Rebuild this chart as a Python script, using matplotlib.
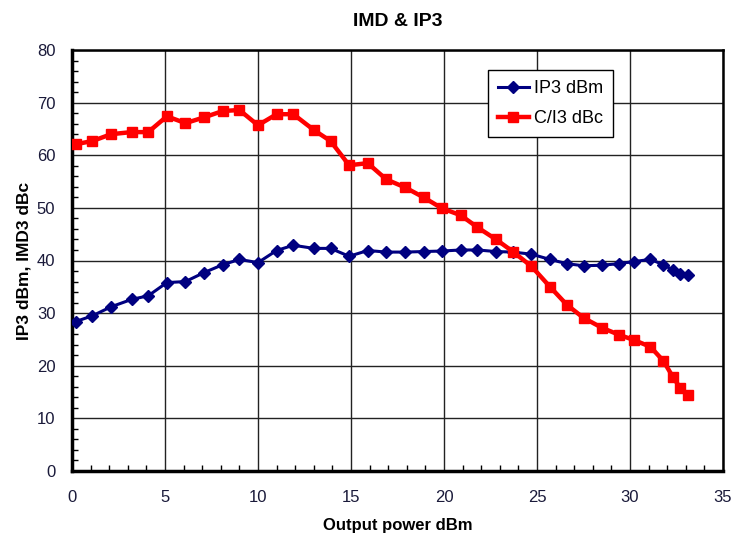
import matplotlib
matplotlib.use("Agg")
import matplotlib.pyplot as plt
from matplotlib.ticker import MultipleLocator

plt.rcParams['font.family'] = ['Liberation Sans', 'DejaVu Sans']

output_power = [0.2, 1.1, 2.1, 3.2, 4.1, 5.1, 6.1, 7.1, 8.1, 9.0, 10.0, 11.0, 11.9,
                13.0, 13.9, 14.9, 15.9, 16.9, 17.9, 18.9, 19.9, 20.9, 21.8, 22.8,
                23.7, 24.7, 25.7, 26.6, 27.5, 28.5, 29.4, 30.2, 31.1, 31.8, 32.3,
                32.7, 33.1]
ip3_dbm = [28.4, 29.5, 31.2, 32.6, 33.3, 35.8, 36.0, 37.7, 39.2, 40.2, 39.6, 41.9,
           42.9, 42.3, 42.3, 40.8, 41.9, 41.6, 41.6, 41.7, 41.8, 42.0, 42.0, 41.7,
           41.6, 41.2, 40.2, 39.4, 39.0, 39.1, 39.4, 39.8, 40.2, 39.2, 38.2, 37.5,
           37.3]
ci3_dbc = [62.1, 62.7, 64.0, 64.4, 64.4, 67.4, 66.1, 67.2, 68.4, 68.6, 65.7, 67.8,
           67.8, 64.8, 62.7, 58.1, 58.5, 55.4, 53.9, 52.0, 49.9, 48.6, 46.3, 44.0,
           41.7, 38.9, 35.0, 31.6, 29.1, 27.2, 25.9, 24.9, 23.6, 20.9, 17.9, 15.8,
           14.5]

fig = plt.figure(figsize=(7.37, 5.42), dpi=100)
ax = fig.add_axes([72/737, 1 - 471/542, 651/737, 421/542])

ax.plot(output_power, ip3_dbm, color='#000080', lw=2.2, marker='D', ms=6,
        label='IP3 dBm', zorder=3)
ax.plot(output_power, ci3_dbc, color='#ff0000', lw=3.2, marker='s', ms=6.5,
        label='C/I3 dBc', zorder=3)

ax.set_xlim(0, 35)
ax.set_ylim(0, 80)
ax.xaxis.set_major_locator(MultipleLocator(5))
ax.yaxis.set_major_locator(MultipleLocator(10))
ax.xaxis.set_minor_locator(MultipleLocator(1))
ax.yaxis.set_minor_locator(MultipleLocator(2))
ax.grid(True, which='major', color='#222222', lw=1.0)
ax.tick_params(which='major', direction='in', length=0, labelsize=12,
               labelcolor='#1a1a3a')
ax.tick_params(axis='x', which='major', pad=14)
ax.tick_params(axis='y', which='major', pad=12)
ax.tick_params(which='minor', direction='in', length=4, width=1, color='black')
for s in ['left', 'bottom']:
    ax.spines[s].set_linewidth(2.5)
for s in ['top', 'right']:
    ax.spines[s].set_linewidth(1.8)

ax.set_title('IMD & IP3', fontsize=14, fontweight='bold', pad=17)
ax.set_xlabel('Output power dBm', fontsize=12, fontweight='bold', labelpad=9)
ax.set_ylabel('IP3 dBm, IMD3 dBc', fontsize=12.5, fontweight='bold', labelpad=4)

leg = ax.legend(loc='upper left', bbox_to_anchor=((488-72)/651, (471-70)/421),
                fontsize=13, frameon=True, fancybox=False, framealpha=1,
                edgecolor='black', handlelength=1.7, borderpad=0.55,
                labelspacing=0.75, handletextpad=0.3, borderaxespad=0)
leg.get_frame().set_linewidth(1.0)

fig.savefig('out.png', dpi=100)
